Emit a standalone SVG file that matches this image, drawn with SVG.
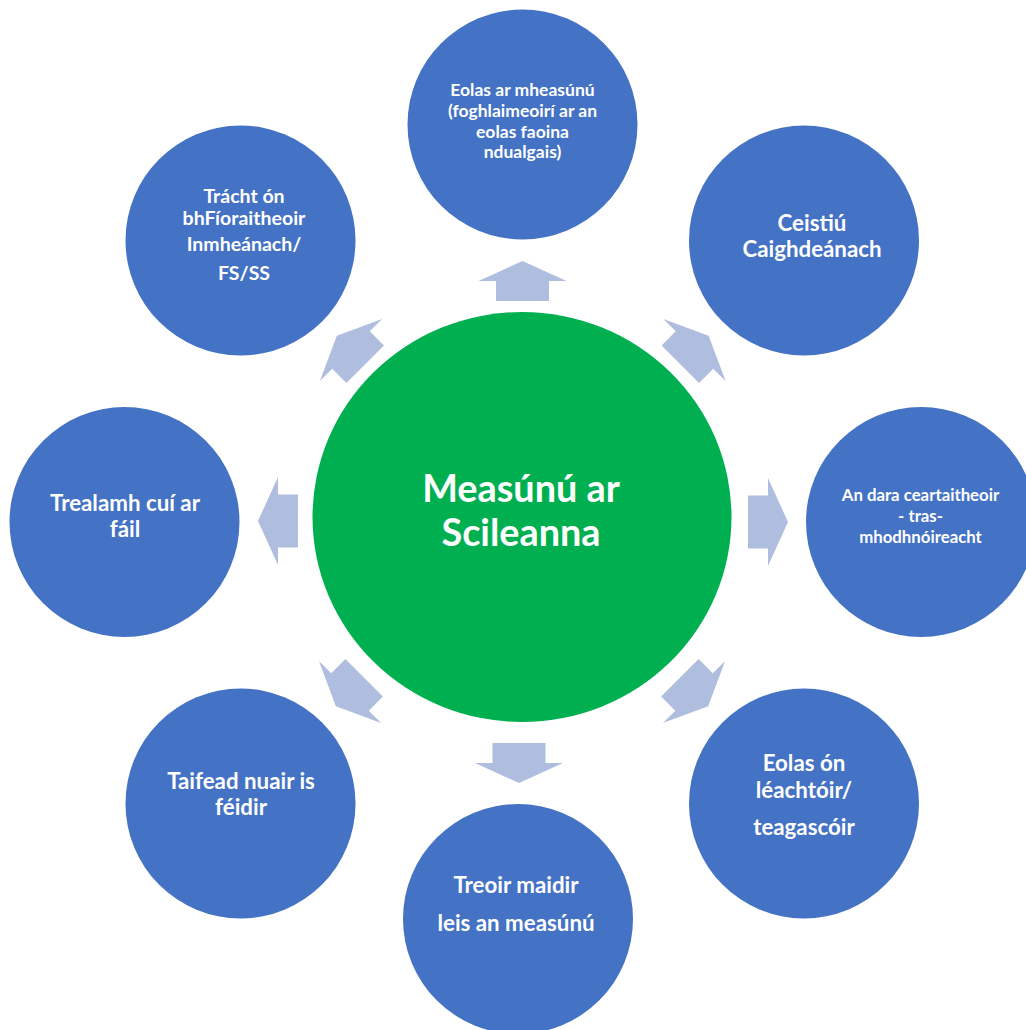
<svg xmlns="http://www.w3.org/2000/svg" width="1026" height="1030" viewBox="0 0 1026 1030">
<defs>
<style>
.sat{fill:#4472C4}
.hub{fill:#00B050}
.arr{fill:#AFBDDF}
text{font-family:Lato,"Open Sans","Liberation Sans",sans-serif;font-weight:bold;fill:#FFFFFF;text-anchor:middle}
.t-top{font-size:17.5px}
.t-right{font-size:16.8px}
.t-tl{font-size:19.5px}
.t22{font-size:22.3px}
.t-hub{font-size:37.8px}
</style>
<path id="blk" d="M -26.5 20 V 0 H -44 L 0 -20 L 44 0 H 26.5 V 20 Z"/>
</defs>
<rect width="1026" height="1030" fill="#FFFFFF"/>
<g id="connectors">
<use href="#blk" class="arr" transform="translate(522.5,281)"/>
<use href="#blk" class="arr" transform="translate(694.5,350) rotate(45)"/>
<use href="#blk" class="arr" transform="translate(768,522) rotate(90)"/>
<use href="#blk" class="arr" transform="translate(694,692) rotate(135)"/>
<use href="#blk" class="arr" transform="translate(519,763) rotate(180)"/>
<use href="#blk" class="arr" transform="translate(350,692) rotate(225)"/>
<use href="#blk" class="arr" transform="translate(278,521) rotate(270)"/>
<use href="#blk" class="arr" transform="translate(351,350) rotate(315)"/>
</g>
<g id="hub">
<ellipse class="hub" cx="522" cy="517" rx="209.5" ry="205"/>
<text class="t-hub" x="521" y="502">Measúnú ar</text>
<text class="t-hub" x="521" y="546">Scileanna</text>
</g>
<g id="n-top">
<circle class="sat" cx="522.5" cy="124.5" r="115"/>
<text class="t-top" x="522.5" y="96">Eolas ar mheasúnú</text>
<text class="t-top" x="522.5" y="117">(foghlaimeoirí ar an</text>
<text class="t-top" x="522.5" y="138">eolas faoina</text>
<text class="t-top" x="522.5" y="158">ndualgais)</text>
</g>
<g id="n-topright">
<circle class="sat" cx="804" cy="240.5" r="115"/>
<text class="t22" x="812" y="231">Ceistiú</text>
<text class="t22" x="812" y="257">Caighdeánach</text>
</g>
<g id="n-right">
<circle class="sat" cx="921" cy="522" r="115"/>
<text class="t-right" x="920.5" y="501">An dara ceartaitheoir</text>
<text class="t-right" x="920.5" y="521.5">- tras-</text>
<text class="t-right" x="920.5" y="543">mhodhnóireacht</text>
</g>
<g id="n-bottomright">
<circle class="sat" cx="804" cy="803.5" r="115"/>
<text class="t22" x="804" y="771">Eolas ón</text>
<text class="t22" x="804" y="798">léachtóir/</text>
<text class="t22" x="804" y="835">teagascóir</text>
</g>
<g id="n-bottom">
<circle class="sat" cx="518" cy="919" r="115"/>
<text class="t22" x="516" y="893">Treoir maidir</text>
<text class="t22" x="516" y="931">leis an measúnú</text>
</g>
<g id="n-bottomleft">
<circle class="sat" cx="240.5" cy="803.5" r="115"/>
<text class="t22" x="241" y="789">Taifead nuair is</text>
<text class="t22" x="241" y="815">féidir</text>
</g>
<g id="n-left">
<circle class="sat" cx="124.5" cy="522" r="115"/>
<text class="t22" x="125" y="511">Trealamh cuí ar</text>
<text class="t22" x="125" y="537">fáil</text>
</g>
<g id="n-topleft">
<circle class="sat" cx="240.5" cy="240.5" r="115"/>
<text class="t-tl" x="244" y="203">Trácht ón</text>
<text class="t-tl" x="244" y="225">bhFíoraitheoir</text>
<text class="t-tl" x="244" y="251">Inmheánach/</text>
<text class="t-tl" x="244" y="280">FS/SS</text>
</g>
</svg>
